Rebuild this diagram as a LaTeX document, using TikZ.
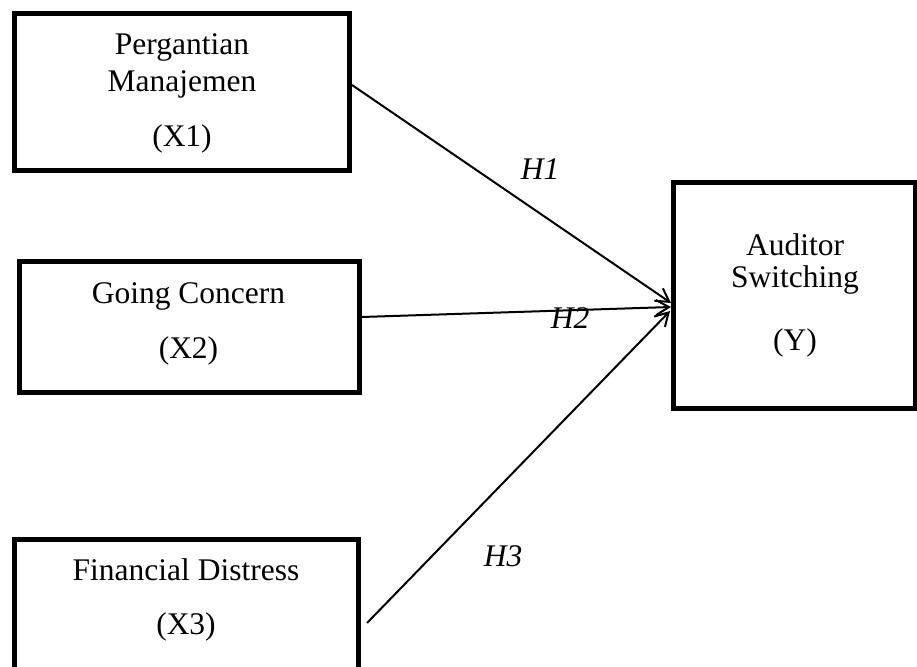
\documentclass[tikz,border=0pt]{standalone}
\usepackage{fontspec}
\setmainfont{Liberation Serif}
\usetikzlibrary{arrows.meta}
\tikzset{
  varbox/.style={draw=black, line width=5pt, rectangle, inner sep=0pt, fill=none},
  lbl/.style={anchor=base, inner sep=0pt, font=\fontsize{31.5}{36}\selectfont},
  hlbl/.style={anchor=base, inner sep=0pt, font=\fontsize{31.5}{36}\selectfont\itshape},
  conn/.style={draw=black, line width=2pt, -{Straight Barb[length=13pt,width=15pt,line width=2pt]}}
}
\begin{document}
\begin{tikzpicture}[x=1pt,y=-1pt]
\useasboundingbox (0,0) rectangle (917,666);
% boxes
\node[varbox, minimum width=335pt, minimum height=156.5pt] (b1) at (182,92.25) {};
\node[varbox, minimum width=339.5pt, minimum height=131pt] (b2) at (189.25,326.5) {};
\node[varbox, minimum width=344pt, minimum height=180.5pt] (b3) at (186.5,629.75) {};
\node[varbox, minimum width=241.5pt, minimum height=226.5pt] (by) at (794.25,295.25) {};
% texts
\node[lbl] (t1a) at (182,55) {Pergantian};
\node[lbl] (t1b) at (182,92) {Manajemen};
\node[lbl] (t1c) at (182,146.5) {(X1)};
\node[lbl] (t2a) at (188.5,303) {Going Concern};
\node[lbl] (t2b) at (188.5,358) {(X2)};
\node[lbl] (t3a) at (186,580) {Financial Distress};
\node[lbl] (t3b) at (186,634) {(X3)};
\node[lbl] (tya) at (795,255) {Auditor};
\node[lbl] (tyb) at (795,287) {Switching};
\node[lbl] (tyc) at (795,350) {(Y)};
% connectors
\draw[conn] ([yshift=7.25pt]b1.east) -- ([yshift=-7.75pt]by.west);
\draw[conn] ([yshift=9.5pt]b2.east) -- ([yshift=-11.75pt]by.west);
\draw[conn] ([xshift=6pt,yshift=6.75pt]b3.east) -- ([xshift=-1pt,yshift=-15.75pt]by.west);
% hypothesis labels
\node[hlbl] (h1) at (540,179) {H1};
\node[hlbl] (h2) at (570,328) {H2};
\node[hlbl] (h3) at (503,566) {H3};
\end{tikzpicture}
\end{document}
